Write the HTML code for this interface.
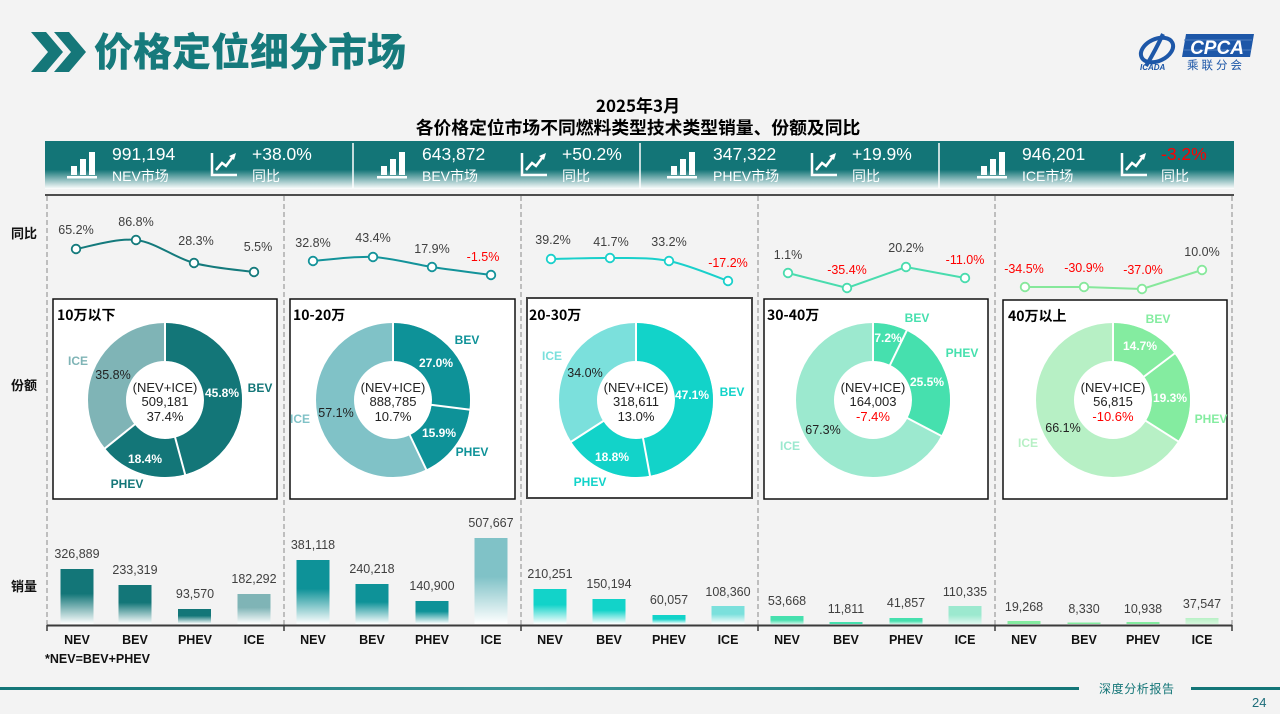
<!DOCTYPE html>
<html><head><meta charset="utf-8"><style>
html,body{margin:0;padding:0;background:#f3f3f3;}
svg{display:block;}
text{font-family:"Liberation Sans","Noto Sans CJK SC",sans-serif;}
.cj{font-family:"Noto Sans CJK SC","Liberation Sans",sans-serif;}
</style></head><body>
<svg width="1280" height="714" viewBox="0 0 1280 714" xmlns="http://www.w3.org/2000/svg">
<defs>
<linearGradient id="kpi" x1="0" y1="0" x2="0" y2="1"><stop offset="0" stop-color="#137577"/><stop offset="0.6" stop-color="#137577"/><stop offset="1" stop-color="#ffffff"/></linearGradient>
<linearGradient id="b1" x1="0" y1="0" x2="0" y2="1"><stop offset="0" stop-color="#137678"/><stop offset="0.45" stop-color="#137678"/><stop offset="1" stop-color="#ffffff"/></linearGradient>
<linearGradient id="i1" x1="0" y1="0" x2="0" y2="1"><stop offset="0" stop-color="#7fb4b6"/><stop offset="0.45" stop-color="#7fb4b6"/><stop offset="1" stop-color="#ffffff"/></linearGradient>
<linearGradient id="b2" x1="0" y1="0" x2="0" y2="1"><stop offset="0" stop-color="#0e9298"/><stop offset="0.45" stop-color="#0e9298"/><stop offset="1" stop-color="#ffffff"/></linearGradient>
<linearGradient id="i2" x1="0" y1="0" x2="0" y2="1"><stop offset="0" stop-color="#80c2c7"/><stop offset="0.45" stop-color="#80c2c7"/><stop offset="1" stop-color="#ffffff"/></linearGradient>
<linearGradient id="b3" x1="0" y1="0" x2="0" y2="1"><stop offset="0" stop-color="#12d3c9"/><stop offset="0.45" stop-color="#12d3c9"/><stop offset="1" stop-color="#ffffff"/></linearGradient>
<linearGradient id="i3" x1="0" y1="0" x2="0" y2="1"><stop offset="0" stop-color="#7be0dc"/><stop offset="0.45" stop-color="#7be0dc"/><stop offset="1" stop-color="#ffffff"/></linearGradient>
<linearGradient id="b4" x1="0" y1="0" x2="0" y2="1"><stop offset="0" stop-color="#46e0ae"/><stop offset="0.5" stop-color="#46e0ae"/><stop offset="1" stop-color="#c8f5e6"/></linearGradient>
<linearGradient id="i4" x1="0" y1="0" x2="0" y2="1"><stop offset="0" stop-color="#9ce9cf"/><stop offset="0.5" stop-color="#9ce9cf"/><stop offset="1" stop-color="#e0f8f0"/></linearGradient>
<linearGradient id="b5" x1="0" y1="0" x2="0" y2="1"><stop offset="0" stop-color="#84eca0"/><stop offset="1" stop-color="#84eca0"/></linearGradient>
<linearGradient id="i5" x1="0" y1="0" x2="0" y2="1"><stop offset="0" stop-color="#b7f0c5"/><stop offset="1" stop-color="#d5f6dd"/></linearGradient>
<linearGradient id="foot" x1="0" y1="0" x2="1" y2="0"><stop offset="0" stop-color="#137577"/><stop offset="0.5" stop-color="#3b9597"/><stop offset="1" stop-color="#137577"/></linearGradient>
</defs>

<rect x="0" y="0" width="1280" height="714" fill="#f3f3f3"/>

<!-- Title -->
<polygon points="31,32 46,32 63,52 46,72 31,72 48,52" fill="#157779"/>
<polygon points="54,32 69,32 86,52 69,72 54,72 71,52" fill="#157779"/>
<text x="94" y="66" class="cj" font-size="39" font-weight="900" fill="#167a7c">价格定位细分市场</text>

<!-- Logo -->
<g>
<ellipse cx="1157" cy="50" rx="17" ry="11" fill="none" stroke="#1d57a8" stroke-width="4" transform="rotate(-25 1157 50)"/>
<path d="M1163,34 C1158,45 1152,56 1146,66" stroke="#1d57a8" stroke-width="4" fill="none"/>
<text x="1140" y="70" font-size="8" font-style="italic" font-weight="bold" fill="#1d57a8">ICADA</text>
<polygon points="1186,34 1254,34 1250,57 1182,57" fill="#1d57a8"/>
<line x1="1184" y1="40" x2="1252" y2="40" stroke="#4f7fc0" stroke-width="1"/>
<line x1="1183" y1="50" x2="1251" y2="50" stroke="#4f7fc0" stroke-width="1"/>
<text x="1217" y="54" text-anchor="middle" font-size="19" font-style="italic" font-weight="bold" fill="#ffffff">CPCA</text>
<text x="1216" y="69" text-anchor="middle" class="cj" font-size="11.5" fill="#1d57a8" letter-spacing="3">乘联分会</text>
</g>

<!-- Subtitle -->
<text x="638" y="112" text-anchor="middle" class="cj" font-size="17" font-weight="bold" fill="#000">2025年3月</text>
<text x="638" y="134" text-anchor="middle" class="cj" font-size="17.8" font-weight="bold" fill="#000">各价格定位市场不同燃料类型技术类型销量、份额及同比</text>

<!-- KPI bar -->
<rect x="45" y="141" width="1189" height="48" fill="url(#kpi)"/>
<line x1="353" y1="143" x2="353" y2="188" stroke="#fff" stroke-width="1.5"/>
<line x1="640" y1="143" x2="640" y2="188" stroke="#fff" stroke-width="1.5"/>
<line x1="939" y1="143" x2="939" y2="188" stroke="#fff" stroke-width="1.5"/>

<g id="k1" fill="#fff">
<rect x="71" y="166" width="6" height="9"/><rect x="80" y="159" width="6" height="16"/><rect x="89" y="152" width="6" height="23"/><rect x="67" y="176" width="30" height="2.5"/>
<path d="M212,153 L212,175 L237,175" stroke="#fff" stroke-width="2.5" fill="none"/>
<polyline points="216,170 222,163 226,166 232,158" stroke="#fff" stroke-width="2.5" fill="none"/>
<polygon points="229,156 236,153 234,160" fill="#fff"/>
</g>
<g fill="#fff" transform="translate(310,0)">
<rect x="71" y="166" width="6" height="9"/><rect x="80" y="159" width="6" height="16"/><rect x="89" y="152" width="6" height="23"/><rect x="67" y="176" width="30" height="2.5"/>
<path d="M212,153 L212,175 L237,175" stroke="#fff" stroke-width="2.5" fill="none"/>
<polyline points="216,170 222,163 226,166 232,158" stroke="#fff" stroke-width="2.5" fill="none"/>
<polygon points="229,156 236,153 234,160" fill="#fff"/>
</g>
<g fill="#fff" transform="translate(600,0)">
<rect x="71" y="166" width="6" height="9"/><rect x="80" y="159" width="6" height="16"/><rect x="89" y="152" width="6" height="23"/><rect x="67" y="176" width="30" height="2.5"/>
<path d="M212,153 L212,175 L237,175" stroke="#fff" stroke-width="2.5" fill="none"/>
<polyline points="216,170 222,163 226,166 232,158" stroke="#fff" stroke-width="2.5" fill="none"/>
<polygon points="229,156 236,153 234,160" fill="#fff"/>
</g>
<g fill="#fff" transform="translate(910,0)">
<rect x="71" y="166" width="6" height="9"/><rect x="80" y="159" width="6" height="16"/><rect x="89" y="152" width="6" height="23"/><rect x="67" y="176" width="30" height="2.5"/>
<path d="M212,153 L212,175 L237,175" stroke="#fff" stroke-width="2.5" fill="none"/>
<polyline points="216,170 222,163 226,166 232,158" stroke="#fff" stroke-width="2.5" fill="none"/>
<polygon points="229,156 236,153 234,160" fill="#fff"/>
</g>

<g fill="#fff">
<text x="112" y="160" font-size="17.5">991,194</text>
<text x="112" y="181" font-size="14">NEV市场</text>
<text x="252" y="160" font-size="17.5">+38.0%</text>
<text x="252" y="181" font-size="14">同比</text>
<text x="422" y="160" font-size="17.5">643,872</text>
<text x="422" y="181" font-size="14">BEV市场</text>
<text x="562" y="160" font-size="17.5">+50.2%</text>
<text x="562" y="181" font-size="14">同比</text>
<text x="713" y="160" font-size="17.5">347,322</text>
<text x="713" y="181" font-size="14">PHEV市场</text>
<text x="852" y="160" font-size="17.5">+19.9%</text>
<text x="852" y="181" font-size="14">同比</text>
<text x="1022" y="160" font-size="17.5">946,201</text>
<text x="1022" y="181" font-size="14">ICE市场</text>
<text x="1161" y="160" font-size="17.5" fill="#ff0000">-3.2%</text>
<text x="1161" y="181" font-size="14">同比</text>
</g>

<!-- grid -->
<line x1="45" y1="195" x2="1234" y2="195" stroke="#4d4d4d" stroke-width="2"/>
<g stroke="#8a8a8a" stroke-width="1" stroke-dasharray="5 3">
<line x1="47" y1="196" x2="47" y2="625"/>
<line x1="284" y1="196" x2="284" y2="625"/>
<line x1="521" y1="196" x2="521" y2="625"/>
<line x1="758" y1="196" x2="758" y2="625"/>
<line x1="995" y1="196" x2="995" y2="625"/>
<line x1="1232" y1="196" x2="1232" y2="625"/>
</g>

<!-- row labels -->
<g class="cj" font-size="13" font-weight="bold" fill="#111">
<text x="11" y="238" class="cj">同比</text>
<text x="11" y="390" class="cj">份额</text>
<text x="11" y="591" class="cj">销量</text>
</g>

<!-- line charts -->
<g fill="none" stroke-width="2">
<path d="M76,249 C86,247.5 116.3,237.7 136,240 C155.7,242.3 174.3,257.7 194,263 C213.7,268.3 244,270.5 254,272" stroke="#147a7c"/>
<path d="M313,261 C323,260.3 353.2,256 373,257 C392.8,258 412.3,264 432,267 C451.7,270 481.2,273.7 491,275" stroke="#13939a"/>
<path d="M551,259 C561,258.8 590,257.7 610,258 C630,258.3 649,257 669,261 C689,265 718,277.5 728,281" stroke="#19d0cb"/>
<polyline points="788,273 847,288 906,267 965,278" stroke="#49dcae"/>
<polyline points="1025,287 1084,287 1142,289 1202,270" stroke="#86e89b"/>
</g>
<g fill="#fff" stroke-width="1.8">
<g stroke="#147a7c"><circle cx="76" cy="249" r="4.3"/><circle cx="136" cy="240" r="4.3"/><circle cx="194" cy="263" r="4.3"/><circle cx="254" cy="272" r="4.3"/></g>
<g stroke="#13939a"><circle cx="313" cy="261" r="4.3"/><circle cx="373" cy="257" r="4.3"/><circle cx="432" cy="267" r="4.3"/><circle cx="491" cy="275" r="4.3"/></g>
<g stroke="#19d0cb"><circle cx="551" cy="259" r="4.3"/><circle cx="610" cy="258" r="4.3"/><circle cx="669" cy="261" r="4.3"/><circle cx="728" cy="281" r="4.3"/></g>
<g stroke="#49dcae"><circle cx="788" cy="273" r="4.3"/><circle cx="847" cy="288" r="4.3"/><circle cx="906" cy="267" r="4.3"/><circle cx="965" cy="278" r="4.3"/></g>
<g stroke="#86e89b"><circle cx="1025" cy="287" r="4.3"/><circle cx="1084" cy="287" r="4.3"/><circle cx="1142" cy="289" r="4.3"/><circle cx="1202" cy="270" r="4.3"/></g>
</g>
<g font-size="12.5" fill="#404040" text-anchor="middle">
<text x="76" y="234">65.2%</text><text x="136" y="226">86.8%</text><text x="196" y="245">28.3%</text><text x="258" y="251">5.5%</text>
<text x="313" y="247">32.8%</text><text x="373" y="242">43.4%</text><text x="432" y="253">17.9%</text><text x="483" y="261" fill="#ff0000">-1.5%</text>
<text x="553" y="244">39.2%</text><text x="611" y="246">41.7%</text><text x="669" y="246">33.2%</text><text x="728" y="267" fill="#ff0000">-17.2%</text>
<text x="788" y="259">1.1%</text><text x="847" y="274" fill="#ff0000">-35.4%</text><text x="906" y="252">20.2%</text><text x="965" y="264" fill="#ff0000">-11.0%</text>
<text x="1024" y="273" fill="#ff0000">-34.5%</text><text x="1084" y="272" fill="#ff0000">-30.9%</text><text x="1143" y="274" fill="#ff0000">-37.0%</text><text x="1202" y="256">10.0%</text>
</g>

<!-- donut boxes -->
<g fill="#fff" stroke="#111" stroke-width="1.5">
<rect x="53" y="299" width="224" height="200"/>
<rect x="290" y="299" width="225" height="200"/>
<rect x="527" y="298" width="225" height="200" stroke="#444" stroke-width="2"/>
<rect x="764" y="299" width="224" height="200"/>
<rect x="1003" y="300" width="224" height="199"/>
</g>
<g class="cj" font-size="14" font-weight="bold" fill="#000">
<text x="57" y="320" class="cj">10万以下</text>
<text x="293" y="320" class="cj">10-20万</text>
<text x="529" y="320" class="cj">20-30万</text>
<text x="767" y="320" class="cj">30-40万</text>
<text x="1008" y="321" class="cj">40万以上</text>
</g>

<!-- donuts -->
<g fill="none" stroke-width="38">
<circle cx="165" cy="400" r="58" stroke="#7fb4b6"/>
<circle cx="165" cy="400" r="58" stroke="#137678" stroke-dasharray="233.95 400" transform="rotate(-90 165 400)"/>
<circle cx="393" cy="400" r="58" stroke="#80c2c7"/>
<circle cx="393" cy="400" r="58" stroke="#0e9298" stroke-dasharray="156.33 400" transform="rotate(-90 393 400)"/>
<circle cx="636" cy="400" r="58" stroke="#7be0dc"/>
<circle cx="636" cy="400" r="58" stroke="#12d3c9" stroke-dasharray="240.15 400" transform="rotate(-90 636 400)"/>
<circle cx="873" cy="400" r="58" stroke="#9ce9cf"/>
<circle cx="873" cy="400" r="58" stroke="#46e0ae" stroke-dasharray="119.17 400" transform="rotate(-90 873 400)"/>
<circle cx="1113" cy="400" r="58" stroke="#b7f0c5"/>
<circle cx="1113" cy="400" r="58" stroke="#84eca0" stroke-dasharray="123.9 400" transform="rotate(-90 1113 400)"/>
</g>
<g stroke="#fff" stroke-width="2">
<g transform="translate(165,400)"><line x1="0" y1="-37" x2="0" y2="-79"/><line x1="0" y1="-37" x2="0" y2="-79" transform="rotate(164.88)"/><line x1="0" y1="-37" x2="0" y2="-79" transform="rotate(231.12)"/></g>
<g transform="translate(393,400)"><line x1="0" y1="-37" x2="0" y2="-79"/><line x1="0" y1="-37" x2="0" y2="-79" transform="rotate(97.2)"/><line x1="0" y1="-37" x2="0" y2="-79" transform="rotate(154.44)"/></g>
<g transform="translate(636,400)"><line x1="0" y1="-37" x2="0" y2="-79"/><line x1="0" y1="-37" x2="0" y2="-79" transform="rotate(169.56)"/><line x1="0" y1="-37" x2="0" y2="-79" transform="rotate(237.24)"/></g>
<g transform="translate(873,400)"><line x1="0" y1="-37" x2="0" y2="-79"/><line x1="0" y1="-37" x2="0" y2="-79" transform="rotate(25.92)"/><line x1="0" y1="-37" x2="0" y2="-79" transform="rotate(117.72)"/></g>
<g transform="translate(1113,400)"><line x1="0" y1="-37" x2="0" y2="-79"/><line x1="0" y1="-37" x2="0" y2="-79" transform="rotate(52.92)"/><line x1="0" y1="-37" x2="0" y2="-79" transform="rotate(122.4)"/></g>
</g>

<!-- donut center text -->
<g font-size="13" fill="#222" text-anchor="middle">
<text x="165" y="392">(NEV+ICE)</text><text x="165" y="406">509,181</text><text x="165" y="421">37.4%</text>
<text x="393" y="392">(NEV+ICE)</text><text x="393" y="406">888,785</text><text x="393" y="421">10.7%</text>
<text x="636" y="392">(NEV+ICE)</text><text x="636" y="406">318,611</text><text x="636" y="421">13.0%</text>
<text x="873" y="392">(NEV+ICE)</text><text x="873" y="406">164,003</text><text x="873" y="421" fill="#ff0000">-7.4%</text>
<text x="1113" y="392">(NEV+ICE)</text><text x="1113" y="406">56,815</text><text x="1113" y="421" fill="#ff0000">-10.6%</text>
</g>

<!-- donut labels -->
<g font-size="12" text-anchor="middle" font-weight="bold">
<text x="78" y="365" fill="#7fb4b6">ICE</text>
<text x="260" y="392" fill="#137678">BEV</text>
<text x="127" y="488" fill="#137678">PHEV</text>
<text x="222" y="397" fill="#fff">45.8%</text>
<text x="145" y="463" fill="#fff">18.4%</text>

<text x="467" y="344" fill="#0e9298">BEV</text>
<text x="472" y="456" fill="#0e9298">PHEV</text>
<text x="300" y="423" fill="#80c2c7">ICE</text>
<text x="436" y="367" fill="#fff">27.0%</text>
<text x="439" y="437" fill="#fff">15.9%</text>

<text x="552" y="360" fill="#7be0dc">ICE</text>
<text x="732" y="396" fill="#12d3c9">BEV</text>
<text x="590" y="486" fill="#12d3c9">PHEV</text>
<text x="692" y="399" fill="#fff">47.1%</text>
<text x="612" y="461" fill="#fff">18.8%</text>

<text x="917" y="322" fill="#46e0ae">BEV</text>
<text x="962" y="357" fill="#46e0ae">PHEV</text>
<text x="790" y="450" fill="#9ce9cf">ICE</text>
<text x="888" y="342" fill="#fff">7.2%</text>
<text x="927" y="386" fill="#fff">25.5%</text>

<text x="1158" y="323" fill="#84eca0">BEV</text>
<text x="1211" y="423" fill="#84eca0">PHEV</text>
<text x="1028" y="447" fill="#b7f0c5">ICE</text>
<text x="1140" y="350" fill="#fff">14.7%</text>
<text x="1170" y="402" fill="#fff">19.3%</text>
</g>
<g font-size="12.5" text-anchor="middle" fill="#222">
<text x="113" y="379">35.8%</text>
<text x="336" y="417">57.1%</text>
<text x="585" y="377">34.0%</text>
<text x="823" y="434">67.3%</text>
<text x="1063" y="432">66.1%</text>
</g>

<!-- bars -->
<g>
<rect x="60.5" y="569" width="33" height="55" fill="url(#b1)"/>
<rect x="118.5" y="585" width="33" height="39" fill="url(#b1)"/>
<rect x="178" y="609" width="33" height="15" fill="url(#b1)"/>
<rect x="237.5" y="594" width="33" height="30" fill="url(#i1)"/>

<rect x="296.5" y="560" width="33" height="64" fill="url(#b2)"/>
<rect x="355.5" y="584" width="33" height="40" fill="url(#b2)"/>
<rect x="415.5" y="601" width="33" height="23" fill="url(#b2)"/>
<rect x="474.5" y="538" width="33" height="86" fill="url(#i2)"/>

<rect x="533.5" y="589" width="33" height="35" fill="url(#b3)"/>
<rect x="592.5" y="599" width="33" height="25" fill="url(#b3)"/>
<rect x="652.5" y="615" width="33" height="9" fill="url(#b3)"/>
<rect x="711.5" y="606" width="33" height="18" fill="url(#i3)"/>

<rect x="770.5" y="616" width="33" height="8" fill="url(#b4)"/>
<rect x="829.5" y="622" width="33" height="2" fill="#46e0ae"/>
<rect x="889.5" y="618" width="33" height="6" fill="url(#b4)"/>
<rect x="948.5" y="606" width="33" height="18" fill="url(#i4)"/>

<rect x="1007.5" y="621" width="33" height="3" fill="#84eca0"/>
<rect x="1067.5" y="622.5" width="33" height="1.5" fill="#84eca0"/>
<rect x="1126.5" y="622" width="33" height="2" fill="#84eca0"/>
<rect x="1185.5" y="618" width="33" height="6" fill="url(#i5)"/>
</g>
<g font-size="12.5" fill="#404040" text-anchor="middle">
<text x="77" y="558">326,889</text><text x="135" y="574">233,319</text><text x="195" y="598">93,570</text><text x="254" y="583">182,292</text>
<text x="313" y="549">381,118</text><text x="372" y="573">240,218</text><text x="432" y="590">140,900</text><text x="491" y="527">507,667</text>
<text x="550" y="578">210,251</text><text x="609" y="588">150,194</text><text x="669" y="604">60,057</text><text x="728" y="596">108,360</text>
<text x="787" y="605">53,668</text><text x="846" y="613">11,811</text><text x="906" y="607">41,857</text><text x="965" y="596">110,335</text>
<text x="1024" y="611">19,268</text><text x="1084" y="613">8,330</text><text x="1143" y="613">10,938</text><text x="1202" y="608">37,547</text>
</g>

<!-- axis -->
<line x1="47" y1="625.5" x2="1232" y2="625.5" stroke="#3a3a3a" stroke-width="2"/>
<g stroke="#3a3a3a" stroke-width="1.5">
<line x1="47" y1="625" x2="47" y2="631"/><line x1="284" y1="625" x2="284" y2="631"/><line x1="521" y1="625" x2="521" y2="631"/><line x1="758" y1="625" x2="758" y2="631"/><line x1="995" y1="625" x2="995" y2="631"/><line x1="1232" y1="625" x2="1232" y2="631"/>
</g>
<g font-size="12.5" font-weight="bold" fill="#111" text-anchor="middle">
<text x="77" y="644">NEV</text><text x="135" y="644">BEV</text><text x="195" y="644">PHEV</text><text x="254" y="644">ICE</text>
<text x="313" y="644">NEV</text><text x="372" y="644">BEV</text><text x="432" y="644">PHEV</text><text x="491" y="644">ICE</text>
<text x="550" y="644">NEV</text><text x="609" y="644">BEV</text><text x="669" y="644">PHEV</text><text x="728" y="644">ICE</text>
<text x="787" y="644">NEV</text><text x="846" y="644">BEV</text><text x="906" y="644">PHEV</text><text x="965" y="644">ICE</text>
<text x="1024" y="644">NEV</text><text x="1084" y="644">BEV</text><text x="1143" y="644">PHEV</text><text x="1202" y="644">ICE</text>
</g>
<text x="45" y="663" font-size="12.5" font-weight="bold" fill="#111">*NEV=BEV+PHEV</text>

<!-- footer -->
<rect x="0" y="687" width="1079" height="3" fill="url(#foot)"/>
<rect x="1191" y="687" width="89" height="3" fill="#137577"/>
<text x="1099" y="693" font-family="'Noto Serif CJK SC',serif" font-size="12" fill="#137577" letter-spacing="0.6">深度分析报告</text>
<text x="1252" y="707" font-size="13" fill="#1d6d7a">24</text>
</svg>
</body></html>
